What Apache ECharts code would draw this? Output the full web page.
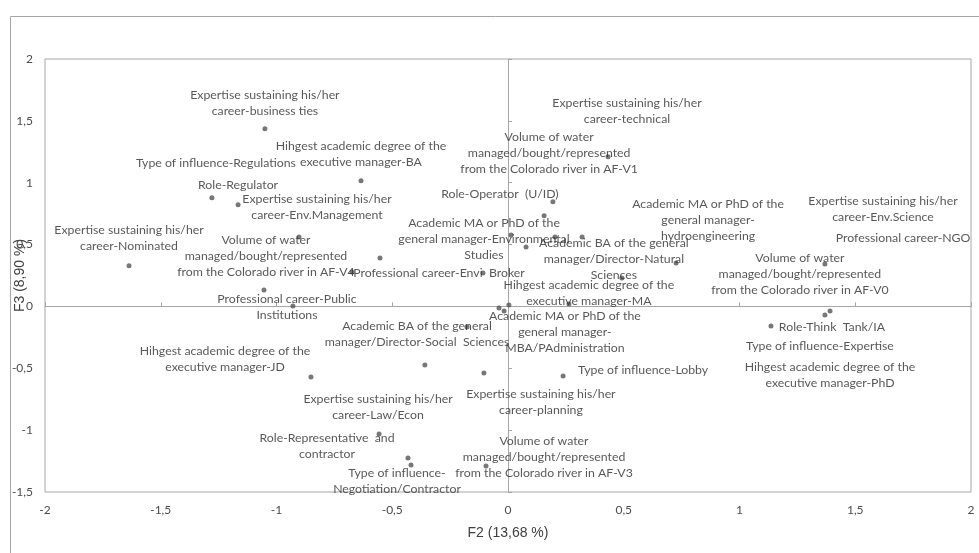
<!DOCTYPE html>
<html><head><meta charset="utf-8">
<script src="https://cdn.jsdelivr.net/npm/echarts@6/dist/echarts.min.js"></script>
<style>html,body{margin:0;padding:0;background:#fff}#c{width:979px;height:553px}</style>
</head><body><div id="c"></div>
<script>
// F2 coordinates
const xVals = [-1.050,-0.635,-1.279,-1.166,-1.637,-0.903,-0.553,-0.674,-1.054,-0.929,
  -0.108,0.194,0.156,0.013,0.203,0.320,0.078,0.432,0.726,0.492,
  1.369,-0.039,-0.017,0.004,0.263,-0.177,-0.359,-0.104,0.238,-0.557,
  -0.432,-0.419,-0.095,-0.851,1.136,1.369,1.391];
// F3 coordinates
const yVals = [1.436,1.015,0.878,0.821,0.328,0.562,0.392,0.279,0.133,0.004,
  0.271,0.846,0.732,0.578,0.562,0.562,0.481,1.209,0.351,0.230,
  0.343,-0.012,-0.036,0.012,0.020,-0.166,-0.474,-0.538,-0.563,-1.032,
  -1.226,-1.282,-1.290,-0.571,-0.158,-0.069,-0.037];
// category labels
const pointLabels = [
  "Expertise sustaining his/her\ncareer-business ties",
  "Hihgest academic degree of the\nexecutive manager-BA",
  "Type of influence-Regulations",
  "Role-Regulator",
  "Expertise sustaining his/her\ncareer-Nominated",
  "Volume of water\nmanaged/bought/represented\nfrom the Colorado river in AF-V4",
  "Expertise sustaining his/her\ncareer-Env.Management",
  "Professional career-Envi  Broker",
  "Professional career-Public\nInstitutions",
  "",
  "Academic MA or PhD of the\ngeneral manager-Environmental\nStudies",
  "Role-Operator  (U/ID)",
  "Volume of water\nmanaged/bought/represented\nfrom the Colorado river in AF-V1",
  "",
  "Expertise sustaining his/her\ncareer-Env.Science",
  "Professional career-NGO",
  "",
  "Expertise sustaining his/her\ncareer-technical",
  "Academic MA or PhD of the\ngeneral manager-\nhydroengineering",
  "Academic BA of the general\nmanager/Director-Natural\nSciences",
  "Volume of water\nmanaged/bought/represented\nfrom the Colorado river in AF-V0",
  "",
  "",
  "Academic MA or PhD of the\ngeneral manager-\nMBA/PAdministration",
  "Hihgest academic degree of the\nexecutive manager-MA",
  "Academic BA of the general\nmanager/Director-Social  Sciences",
  "",
  "Expertise sustaining his/her\ncareer-planning",
  "Type of influence-Lobby",
  "Expertise sustaining his/her\ncareer-Law/Econ",
  "Role-Representative  and\ncontractor",
  "Type of influence-\nNegotiation/Contractor",
  "Volume of water\nmanaged/bought/represented\nfrom the Colorado river in AF-V3",
  "Hihgest academic degree of the\nexecutive manager-JD",
  "Role-Think  Tank/IA",
  "Type of influence-Expertise",
  "Hihgest academic degree of the\nexecutive manager-PhD"
];
const xTicks = [-2,-1.5,-1,-0.5,0,0.5,1,1.5,2];
const yTicks = [-1.5,-1,-0.5,0,0.5,1,1.5,2];
const xTitle = "F2 (13,68 %)";
const yTitle = "F3 (8,90 %)";

// label placement (pixel offsets of label centre from each point)
const labelOffsets = [
  [0,-26],[0,-27],[4,-35],[0,-20],[0,-28],[-33,19],[-63,-51],[87,1],[23,17],[0,0],
  [1,-34],[-53,-8],[5,-63],[0,0],[328,-28],[321,1],[0,0],[19,-46],[32,-43],[-8,-19],
  [-25,10],[0,0],[0,0],[56,27],[20,-11],[-50,7],[0,0],[57,29],[80,-6],[-1,-27],
  [-81,-12],[-14,16],[58,-9],[-86,-18],[61,1],[-5,31],[0,64]
];

const SYM = 5;
const fmt = v => String(v).replace('.', ',');
const FONT = 'Lato';
const data = xVals.map((x, i) => ({
  value: [x, yVals[i]],
  label: {
    show: pointLabels[i] !== "",
    formatter: pointLabels[i],
    position: [SYM / 2 + labelOffsets[i][0], SYM / 2 + labelOffsets[i][1]],
    align: 'center',
    verticalAlign: 'middle'
  }
}));

const chart = echarts.init(document.getElementById('c'), null, {renderer: 'canvas'});
chart.setOption({
  backgroundColor: '#ffffff',
  animation: false,
  graphic: [{
    type: 'rect', left: 8, top: 14, silent: true,
    shape: {width: 990, height: 560},
    style: {fill: 'none', stroke: '#a6a6a6', lineWidth: 1}
  }],
  grid: {left: 45, right: 8, top: 59, bottom: 61, show: true, borderColor: '#a6a6a6', borderWidth: 1,
         containLabel: false, outerBoundsMode: 'none'},
  xAxis: [{
    type: 'value', min: xTicks[0], max: xTicks[xTicks.length-1], interval: 0.5,
    axisLine: {show: false, onZero: false}, axisTick: {show: false}, splitLine: {show: false},
    axisLabel: {formatter: fmt, color: '#4d4d4d', fontFamily: FONT, fontSize: 12, margin: 12},
    name: xTitle, nameLocation: 'middle', nameGap: 34, nameMoveOverlap: false,
    nameTextStyle: {fontFamily: 'Liberation Sans', fontSize: 14, color: '#404040', verticalAlign: 'top'}
  }, {
    type: 'value', min: xTicks[0], max: xTicks[xTicks.length-1], interval: 0.5,
    axisLine: {show: true, onZero: true, onZeroAxisIndex: 0, lineStyle: {color: '#a6a6a6', width: 1}},
    axisTick: {show: true, length: 4, lineStyle: {color: '#a6a6a6'}},
    axisLabel: {show: false}, splitLine: {show: false}
  }],
  yAxis: [{
    type: 'value', min: yTicks[0], max: yTicks[yTicks.length-1], interval: 0.5,
    axisLine: {show: false, onZero: false}, axisTick: {show: false}, splitLine: {show: false},
    axisLabel: {formatter: fmt, color: '#4d4d4d', fontFamily: FONT, fontSize: 12, margin: 12},
    name: yTitle, nameLocation: 'middle', nameGap: 18, nameRotate: 90, nameMoveOverlap: false,
    nameTextStyle: {fontFamily: 'Liberation Sans', fontSize: 14, color: '#404040'}
  }, {
    type: 'value', min: yTicks[0], max: yTicks[yTicks.length-1], interval: 0.5,
    axisLine: {show: true, onZero: true, onZeroAxisIndex: 0, lineStyle: {color: '#a6a6a6', width: 1}},
    axisTick: {show: true, length: 4, lineStyle: {color: '#a6a6a6'}},
    axisLabel: {show: false}, splitLine: {show: false}
  }],
  series: [{
    type: 'scatter', xAxisIndex: 0, yAxisIndex: 0,
    symbolSize: SYM,
    itemStyle: {color: '#555555'},
    label: {color: '#2e2e2e', fontFamily: FONT, fontSize: 12.3, lineHeight: 16},
    labelLayout: {hideOverlap: false},
    data: data
  }]
});
</script></body></html>
